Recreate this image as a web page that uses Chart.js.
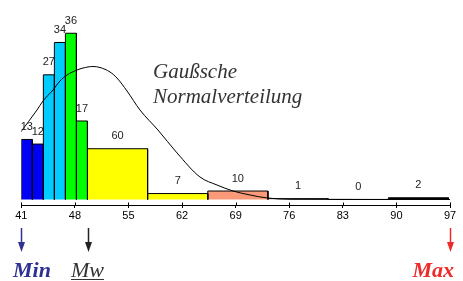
<!DOCTYPE html>
<html>
<head>
<meta charset="utf-8">
<script src="https://cdn.jsdelivr.net/npm/chart.js@4"></script>
<style>
  html, body { margin: 0; padding: 0; background: #fff; }
  canvas { display: block; }
</style>
</head>
<body>
<canvas id="histChart" width="463" height="281"></canvas>
<script>
// bin edges (class limits) and counts per class
const binEdges = [41, 42.44, 43.88, 45.32, 46.76, 48.2, 49.64, 57.5, 65.36, 73.22, 81.08, 88.94, 96.8];
const binCounts = [13, 12, 27, 34, 36, 17, 60, 7, 10, 1, 0, 2];
const binColors = ['#0000f5', '#0000f5', '#00ccff', '#00ccff', '#00ff00', '#00ff00',
                   '#ffff00', '#ffff00', '#fa9a78', '#ffffff', '#ffffff', '#000000'];

// Gaussian curve (x value, density)
const curveX = [40.83, 43.05, 43.83, 45.14, 46.05, 46.97, 48.27, 49.06, 50.37, 51.28, 52.59, 53.5,
                54.81, 56.5, 58.85, 61.34, 64.34, 66.56, 68.65, 70.87, 73.09, 76.1, 97];
const curveY = [10.0, 13.46, 14.81, 16.47, 17.82, 18.72, 19.47, 19.77, 20.0, 19.85, 19.17, 18.27,
                16.32, 13.46, 10.45, 7.0, 3.38, 2.18, 1.28, 0.68, 0.23, 0.03, 0];

const tickValues = [41, 48, 55, 62, 69, 76, 83, 90, 97];

// markers below the axis
const markerLabels = ['Min', 'Mw', 'Max'];
const markerValues = [41, 49.7, 97];

// each class drawn as a closed rectangle, height = count / class width
const barSets = binCounts.map((c, i) => {
    const x0 = binEdges[i], x1 = binEdges[i + 1];
    const h = c / (x1 - x0);
    return {
        data: [{ x: x0, y: 0 }, { x: x0, y: h }, { x: x1, y: h }, { x: x1, y: 0 }],
        showLine: true,
        fill: 'origin',
        backgroundColor: binColors[i],
        borderColor: '#000',
        borderWidth: 1,
        pointRadius: 0,
        tension: 0
    };
});

const curveSet = {
    data: curveX.map((x, i) => ({ x: x, y: curveY[i] })),
    showLine: true,
    fill: false,
    borderColor: '#000',
    borderWidth: 1,
    pointRadius: 0,
    cubicInterpolationMode: 'monotone'
};

const annotations = {
    id: 'annotations',
    afterDraw(chart) {
        const ctx = chart.ctx;
        const xs = chart.scales.x, ys = chart.scales.y;
        ctx.save();

        // tick marks crossing the axis line
        const axisY = chart.chartArea.bottom;
        ctx.strokeStyle = '#000';
        ctx.lineWidth = 1;
        tickValues.forEach(v => {
            const px = Math.round(xs.getPixelForValue(v)) + 0.5;
            ctx.beginPath();
            ctx.moveTo(px, axisY - 2.5);
            ctx.lineTo(px, axisY);
            ctx.stroke();
        });

        // counts above the bars
        ctx.fillStyle = '#222';
        ctx.font = '11px "Liberation Sans", Arial, sans-serif';
        ctx.textAlign = 'center';
        ctx.textBaseline = 'middle';
        binCounts.forEach((c, i) => {
            const x0 = binEdges[i], x1 = binEdges[i + 1];
            const h = c / (x1 - x0);
            const px = xs.getPixelForValue((x0 + x1) / 2);
            const py = ys.getPixelForValue(h) - 12.5;
            ctx.fillText(String(c), px, py);
        });

        // curve caption
        ctx.fillStyle = '#333';
        ctx.font = 'italic 21px "Liberation Serif", "Times New Roman", serif';
        ctx.textAlign = 'left';
        ctx.textBaseline = 'alphabetic';
        ctx.fillText('Gaußsche', 153, 78);
        ctx.fillText('Normalverteilung', 153, 103);

        // arrows + labels under the axis
        const markerColors = ['#2e3192', '#222222', '#ee2a2a'];
        markerValues.forEach((v, i) => {
            const px = Math.round(xs.getPixelForValue(v)) + 0.5;
            ctx.strokeStyle = markerColors[i];
            ctx.fillStyle = markerColors[i];
            ctx.lineWidth = 1.5;
            ctx.beginPath();
            ctx.moveTo(px, 228);
            ctx.lineTo(px, 244);
            ctx.stroke();
            ctx.beginPath();
            ctx.moveTo(px - 3.5, 242);
            ctx.lineTo(px + 3.5, 242);
            ctx.lineTo(px, 252);
            ctx.closePath();
            ctx.fill();
        });

        ctx.font = 'italic bold 22px "Liberation Serif", "Times New Roman", serif';
        ctx.fillStyle = markerColors[0];
        ctx.textAlign = 'left';
        ctx.fillText(markerLabels[0], 13, 277);
        ctx.fillStyle = markerColors[2];
        ctx.textAlign = 'right';
        ctx.fillText(markerLabels[2], 454, 277);

        ctx.font = 'italic 22px "Liberation Serif", "Times New Roman", serif';
        ctx.fillStyle = '#333';
        ctx.textAlign = 'left';
        ctx.fillText(markerLabels[1], 71, 277);
        const w = ctx.measureText(markerLabels[1]).width;
        ctx.strokeStyle = '#333';
        ctx.lineWidth = 1;
        ctx.beginPath();
        ctx.moveTo(71, 279.5);
        ctx.lineTo(71 + w, 279.5);
        ctx.stroke();

        ctx.restore();
    }
};

new Chart(document.getElementById('histChart'), {
    type: 'scatter',
    data: { datasets: [curveSet, ...barSets] },
    options: {
        responsive: false,
        animation: false,
        devicePixelRatio: 1,
        layout: { padding: { left: 21.3, right: 13, top: 5, bottom: 0 } },
        plugins: {
            legend: { display: false },
            tooltip: { enabled: false }
        },
        scales: {
            x: {
                type: 'linear',
                min: 41,
                max: 97,
                afterBuildTicks: s => { s.ticks = tickValues.map(v => ({ value: v })); },
                afterFit: s => { s.height = 76; },
                grid: { drawOnChartArea: false, color: '#000', tickLength: 3, lineWidth: 1 },
                border: { display: true, color: '#000', width: 1 },
                ticks: {
                    color: '#000',
                    padding: 1,
                    maxRotation: 0,
                    autoSkip: false,
                    font: { size: 11, family: '"Liberation Sans", Arial, sans-serif' }
                }
            },
            y: {
                display: false,
                min: -0.83,
                max: 29.25
            }
        }
    },
    plugins: [annotations]
});
</script>
</body>
</html>
